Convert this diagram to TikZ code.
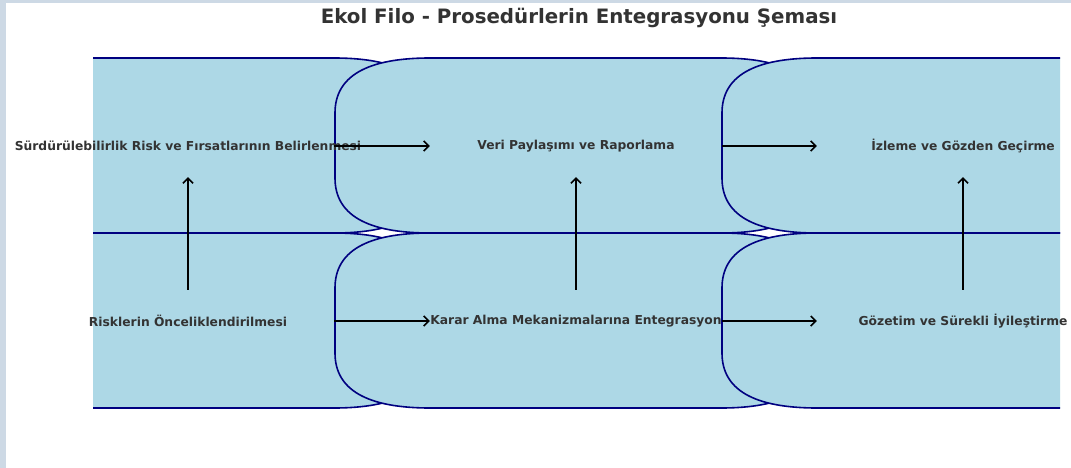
\documentclass[tikz,border=0pt]{standalone}
\usepackage{fontspec}
\usepackage{tikz}
\usepackage{xcolor}
\usetikzlibrary{arrows.meta}
\newfontfamily\dejavu{DejaVu Sans}
\definecolor{kutumavi}{HTML}{ADD8E6}
\definecolor{kenar}{HTML}{000080}
\definecolor{yazi}{HTML}{333333}
\definecolor{cerceve}{HTML}{CDD9E5}

\begin{document}
\begin{tikzpicture}[x=1pt,y=-1pt]
            \useasboundingbox (0,0) rectangle (1071,468);
            \fill[white] (0,0) rectangle (1071,468);
            \fill[cerceve] (0,0) rectangle (6,468);
            \fill[cerceve] (0,0) rectangle (1071,3);

            \node[font=\dejavu\bfseries\fontsize{19.8}{23}\selectfont, text=yazi] (baslik) at (579,18)
                {Ekol Filo - Prosedürlerin Entegrasyonu Şeması};

            % kutular (sol ve sag kenarlar kirpilir)
            \begin{scope}
                \clip (93,0) rectangle (1060,468);
                \foreach \L in {-52,335,722} {
                    \foreach \T/\B in {58/233,233/408} {
                        \draw[fill=kutumavi, draw=kenar, line width=1.6pt]
                            ({\L+95},\T) -- ({\L+386},\T)
                            .. controls ({\L+449.3},\T) and ({\L+481},{\T+18.3}) .. ({\L+481},{\T+55})
                            -- ({\L+481},{\B-55})
                            .. controls ({\L+481},{\B-18.3}) and ({\L+449.3},\B) .. ({\L+386},\B)
                            -- ({\L+95},\B)
                            .. controls ({\L+31.7},\B) and (\L,{\B-18.3}) .. (\L,{\B-55})
                            -- (\L,{\T+55})
                            .. controls (\L,{\T+18.3}) and ({\L+31.7},\T) .. cycle;
                    }
                }
            \end{scope}

            \begin{scope}[every node/.style = {font=\dejavu\bfseries\fontsize{12.3}{15}\selectfont,
                            text=yazi, inner sep=0pt, minimum width=292pt, minimum height=62pt}]
                \node (s1) at (188,146) {\makebox[0pt]{Sürdürülebilirlik Risk ve Fırsatlarının Belirlenmesi}};
                \node (v1) at (576,146) {\makebox[0pt]{Veri Paylaşımı ve Raporlama}};
                \node (i1) at (963,146) {\makebox[0pt]{İzleme ve Gözden Geçirme}};
                \node (r1) at (188,321) {\makebox[0pt]{Risklerin Önceliklendirilmesi}};
                \node (k1) at (576,321) {\makebox[0pt]{Karar Alma Mekanizmalarına Entegrasyon}};
                \node (g1) at (963,321) {\makebox[0pt]{Gözetim ve Sürekli İyileştirme}};
            \end{scope}

            \begin{scope}[>={Straight Barb[length=5pt,width=10pt]},
                            every edge/.style={draw=black, line width=1.5pt}]
                \path [->] (s1) edge (v1);
                \path [->] (v1) edge (i1);
                \path [->] (r1) edge (k1);
                \path [->] (k1) edge (g1);
                \path [->] (r1) edge (s1);
                \path [->] (k1) edge (v1);
                \path [->] (g1) edge (i1);
            \end{scope}
        \end{tikzpicture}
\end{document}
